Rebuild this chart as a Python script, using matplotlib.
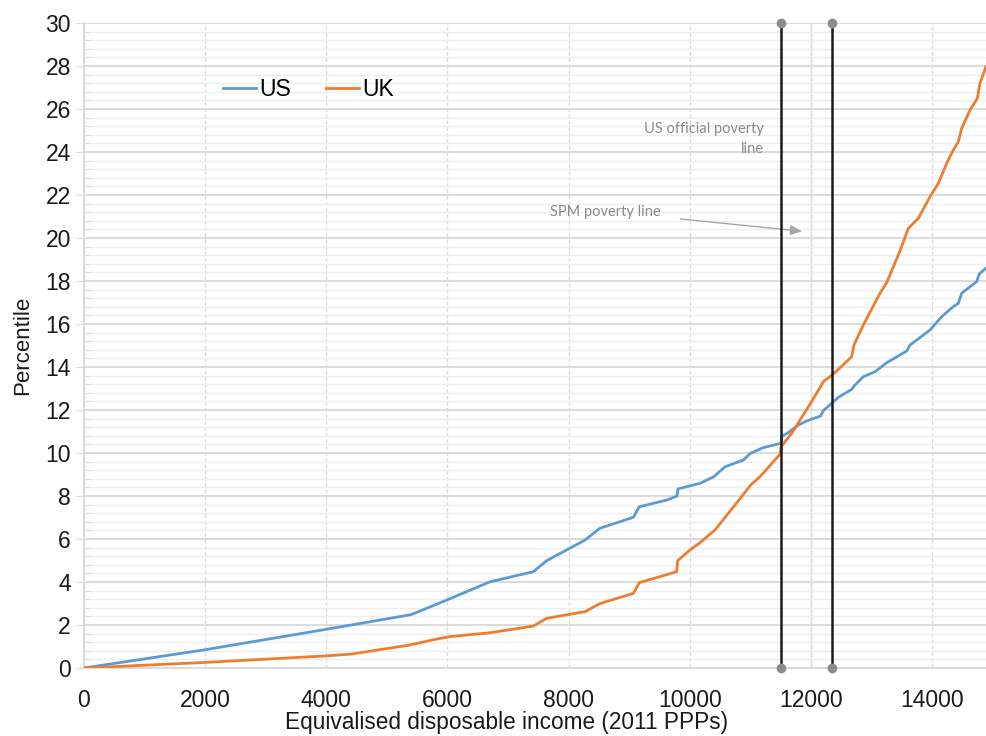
import matplotlib
matplotlib.use("Agg")
import matplotlib.pyplot as plt
import numpy as np
from matplotlib.ticker import MultipleLocator

plt.rcParams['font.family'] = ['Liberation Sans', 'DejaVu Sans']

us_x = [0, 2000, 4000, 5400, 5988, 6703, 7418, 7638, 8271, 8519, 9069, 9168, 9620, 9790, 9807,
        10170, 10400, 10583, 10885, 11000, 11216, 11507, 11518, 11628, 11793, 11931, 12162, 12206,
        12454, 12674, 12729, 12866, 13059, 13252, 13472, 13582, 13637, 13967, 14160, 14352, 14434,
        14490, 14737, 14781, 14892]
us_y = [0, 0.85, 1.8, 2.48, 3.16, 4.01, 4.48, 4.99, 5.95, 6.5, 7.01, 7.5, 7.81, 8.0, 8.33,
        8.59, 8.9, 9.36, 9.67, 9.98, 10.25, 10.45, 10.76, 10.95, 11.3, 11.49, 11.72, 11.97,
        12.59, 12.96, 13.16, 13.55, 13.78, 14.2, 14.56, 14.74, 15.02, 15.72, 16.34, 16.81, 16.96,
        17.43, 17.97, 18.33, 18.6]

uk_x = [0, 2000, 3979, 4420, 5382, 5795, 6043, 6703, 7418, 7638, 8271, 8519, 9069, 9168,
        9785, 9801, 10005, 10170, 10418, 10858, 11006, 11161, 11491, 11507, 11683, 11821, 11959,
        12162, 12206, 12371, 12674, 12712, 12866, 13142, 13252, 13472, 13609, 13774, 13967, 14104,
        14243, 14352, 14435, 14490, 14628, 14749, 14793, 14892]
uk_y = [0, 0.26, 0.56, 0.65, 1.07, 1.33, 1.46, 1.64, 1.95, 2.31, 2.62, 3.0, 3.47, 3.97,
        4.48, 4.99, 5.49, 5.83, 6.42, 7.97, 8.51, 8.9, 9.94, 10.29, 10.91, 11.53, 12.15,
        13.09, 13.32, 13.67, 14.48, 15.02, 15.95, 17.43, 17.92, 19.4, 20.45, 20.91, 21.92, 22.54,
        23.47, 24.09, 24.48, 25.1, 25.95, 26.5, 27.2, 27.97]

us_official_line = 11507
spm_line = 12349

fig = plt.figure(figsize=(9.86, 7.36), dpi=100)
ax = fig.add_axes([84/986, (736-668)/736, 1 - 84/986, (668-23)/736])

ax.set_xlim(0, 14892)
ax.set_ylim(0, 30)

ax.yaxis.set_major_locator(MultipleLocator(2))
ax.yaxis.set_minor_locator(MultipleLocator(0.4))
ax.xaxis.set_major_locator(MultipleLocator(2000))

ax.grid(which='major', axis='y', color='#d9d9d9', lw=1.3, zorder=0)
ax.grid(which='minor', axis='y', color='#eeeeee', lw=1.0, zorder=0)
ax.grid(which='major', axis='x', color='#dcdcdc', lw=1.0, ls=(0, (3, 1.5)), zorder=0)
ax.axvline(12000, color='#dcdcdc', lw=1.0, zorder=0)

for s in ['top', 'right']:
    ax.spines[s].set_visible(False)
for s in ['left', 'bottom']:
    ax.spines[s].set_color('#d9d9d9')
    ax.spines[s].set_linewidth(1.3)

ax.tick_params(axis='x', which='both', length=0, labelsize=16.5, pad=15, colors='#1a1a1a')
ax.tick_params(axis='y', which='major', length=6, direction='out', color='#d9d9d9', labelsize=16.5, pad=3.5, labelcolor='#1a1a1a')
ax.tick_params(axis='y', which='minor', length=4, direction='in', color='#d9d9d9')

ax.plot(us_x, us_y, color='#5b9bd5', lw=2.0, label='US', zorder=3)
ax.plot(uk_x, uk_y, color='#ed7d31', lw=2.0, label='UK', zorder=3)

for xv in [us_official_line, spm_line]:
    ax.plot([xv, xv], [0, 30], color='#1a1a1a', lw=1.8, zorder=4, clip_on=False)
    ax.plot([xv, xv], [0, 30], ls='none', marker='o', ms=6, color='#8c8c8c', zorder=5, clip_on=False)

ax.set_xlabel('Equivalised disposable income (2011 PPPs)', fontsize=16.3, color='#1a1a1a')
ax.xaxis.set_label_coords(0.468, -0.084)
ax.xaxis.label.set_va('center')
ax.set_ylabel('Percentile', fontsize=16, color='#1a1a1a', labelpad=9)

leg = ax.legend(loc='upper left', bbox_to_anchor=(0.131, 0.946), ncol=2, frameon=False,
                fontsize=16.5, handlelength=1.45, handletextpad=0.15, columnspacing=1.5)

ax.text(11225, 24.6, 'US official poverty\nline', ha='right', va='center', fontsize=10.5,
        color='#8a8a8a', family=['Lato', 'DejaVu Sans'], linespacing=1.6)
ax.text(7700, 21.2, 'SPM poverty line', ha='left', va='center', fontsize=10.5,
        color='#8a8a8a', family=['Lato', 'DejaVu Sans'])
ax.annotate('', xy=(11900, 20.3), xytext=(9800, 20.9),
            arrowprops=dict(arrowstyle='-|>,head_length=0.7,head_width=0.3', color='#a6a6a6', lw=1.0))

fig.savefig('out.png', dpi=100)
